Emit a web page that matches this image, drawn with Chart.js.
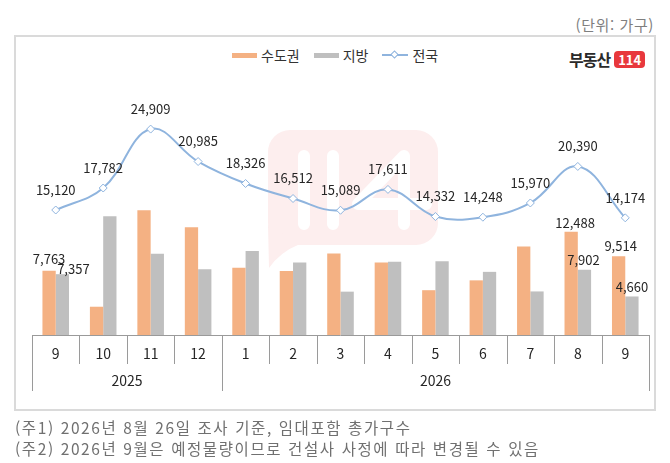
<!DOCTYPE html>
<html lang="ko">
<head>
<meta charset="utf-8">
<title>월별 입주물량</title>
<script src="https://cdn.jsdelivr.net/npm/chart.js@4"></script>
<style>
  html, body { margin: 0; padding: 0; background: #fff; }
  body { width: 670px; height: 463px; position: relative; overflow: hidden;
         font-family: "Noto Sans CJK KR", "Noto Sans", sans-serif; }
  #box { position: absolute; left: 14px; top: 35px; width: 638px; height: 372px;
         border: 2px solid #dadada; }
  #chart { position: absolute; left: 0; top: 0; }
  #unit { position: absolute; right: 16px; top: 14px; font-size: 15px; color: #7f7f7f;
          letter-spacing: 0.6px; line-height: 22px; }
  #legend { position: absolute; left: 232px; top: 45px; display: flex; align-items: center;
            font-size: 14px; color: #333; }
  #legend span.sw { display: inline-block; width: 25px; height: 5px; margin-right: 4px; }
  #legend .item { display: flex; align-items: center; margin-right: 14px; }
  #logo { position: absolute; left: 569px; top: 47px; display: flex; align-items: center; }
  #logo b { font-size: 16px; color: #2a2a2a; letter-spacing: -1px; }
  #logo i { font-style: normal; font-weight: bold; font-size: 13px; color: #fff; background: #e8383d;
            border-radius: 4px; padding: 1px 4px; margin-left: 4px; line-height: 15px; }
  .note { position: absolute; left: 15px; font-size: 15.5px; color: #707070;
          letter-spacing: 1.6px; line-height: 22px; }
</style>
</head>
<body>
<div id="box"></div>
<div id="unit">(단위: 가구)</div>
<div id="legend">
  <div class="item"><span class="sw" style="background:#F4B183"></span>수도권</div>
  <div class="item"><span class="sw" style="background:#BFBFBF"></span>지방</div>
  <div class="item">
    <svg width="26" height="10" style="margin-right:4px"><line x1="0" y1="5" x2="26" y2="5" stroke="#8FB4DE" stroke-width="2"/><rect x="10" y="2" width="5" height="5" transform="rotate(45 12.5 4.5)" fill="#fff" stroke="#8FB4DE" stroke-width="1"/></svg>전국
  </div>
</div>
<div id="logo"><b>부동산</b><i>114</i></div>
<canvas id="chart" width="670" height="463"></canvas>
<div class="note" style="top:416px">(주1) 2026년 8월 26일 조사 기준, 임대포함 총가구수</div>
<div class="note" style="top:437px">(주2) 2026년 9월은 예정물량이므로 건설사 사정에 따라 변경될 수 있음</div>
<script>
// monthly labels and the year groups under them
const months = ['9', '10', '11', '12', '1', '2', '3', '4', '5', '6', '7', '8', '9'];
const years = ['2025', '2026'];
const yearSpans = [4, 9];

// households moving in: capital area, other regions, nationwide total
const capital = [7763, 3420, 15090, 13040, 8150, 7750, 9845, 8765, 5420, 6610, 10700, 12488, 9514];
const regions = [7357, 14362, 9819, 7945, 10176, 8762, 5244, 8846, 8912, 7638, 5270, 7902, 4660];
const nation = [15120, 17782, 24909, 20985, 18326, 16512, 15089, 17611, 14332, 14248, 15970, 20390, 14174];

// bars that carry a value label
const labelledBars = [0, 11, 12];

const fmt = v => v.toLocaleString('en-US');

// faint 114 speech bubble behind the plot
const watermark = {
  id: 'watermark',
  beforeDatasetsDraw(chart) {
    const ctx = chart.ctx;
    ctx.save();
    ctx.fillStyle = '#fdeeee';
    ctx.beginPath();
    ctx.roundRect(268, 130, 170, 115, 22);
    ctx.fill();
    ctx.beginPath();
    ctx.moveTo(268, 225);
    ctx.lineTo(269, 268);
    ctx.quadraticCurveTo(280, 252, 300, 244);
    ctx.closePath();
    ctx.fill();
    ctx.strokeStyle = '#ffffff';
    ctx.lineWidth = 12;
    ctx.lineCap = 'round';
    ctx.lineJoin = 'round';
    ctx.beginPath();
    ctx.moveTo(304, 156); ctx.lineTo(304, 224);
    ctx.moveTo(333, 156); ctx.lineTo(333, 224);
    ctx.moveTo(404, 224); ctx.lineTo(404, 156);
    ctx.lineTo(358, 204); ctx.lineTo(426, 204);
    ctx.stroke();
    ctx.restore();
  }
};

// two level category axis with separators
const groupedAxis = {
  id: 'groupedAxis',
  afterDraw(chart) {
    const ctx = chart.ctx;
    const x = chart.scales.x;
    const area = chart.chartArea;
    const w = (area.right - area.left) / months.length;
    const base = area.bottom;
    ctx.save();
    ctx.strokeStyle = '#9a9a9a';
    ctx.lineWidth = 1;
    ctx.beginPath();
    ctx.moveTo(area.left, base + 0.5);
    ctx.lineTo(area.right, base + 0.5);
    const bounds = [0];
    yearSpans.reduce((s, n) => { bounds.push(s + n); return s + n; }, 0);
    for (let i = 0; i <= months.length; i++) {
      const px = Math.round(area.left + i * w) + 0.5;
      const long = bounds.includes(i);
      ctx.moveTo(px, base);
      ctx.lineTo(px, base + (long ? 56 : 29));
    }
    ctx.stroke();
    ctx.fillStyle = '#262626';
    ctx.font = '14px "Noto Sans CJK KR", sans-serif';
    ctx.textAlign = 'center';
    ctx.textBaseline = 'middle';
    months.forEach((m, i) => ctx.fillText(m, x.getPixelForValue(i), base + 19));
    years.forEach((y, k) => {
      const mid = area.left + (bounds[k] + bounds[k + 1]) / 2 * w;
      ctx.fillText(y, mid, base + 46);
    });
    ctx.restore();
  }
};

// value labels above the line points and a few bars
const valueLabels = {
  id: 'valueLabels',
  afterDatasetsDraw(chart) {
    const ctx = chart.ctx;
    ctx.save();
    ctx.font = '13px "Noto Sans CJK KR", sans-serif';
    ctx.fillStyle = '#262626';
    ctx.textAlign = 'center';
    ctx.textBaseline = 'middle';
    const shift = {
      0: { 0: [0, -12], 11: [4, -9], 12: [2, -10] },
      1: { 0: [11, -5], 11: [-1, -10], 12: [0, -9] }
    };
    [0, 1].forEach(d => {
      const meta = chart.getDatasetMeta(d);
      labelledBars.forEach(i => {
        const el = meta.data[i];
        const [dx, dy] = shift[d][i];
        ctx.fillText(fmt(chart.data.datasets[d].data[i]), el.x + dx, el.y + dy);
      });
    });
    const lm = chart.getDatasetMeta(2);
    lm.data.forEach((el, i) => ctx.fillText(fmt(nation[i]), el.x, el.y - 20));
    ctx.restore();
  }
};

new Chart(document.getElementById('chart'), {
  type: 'bar',
  data: {
    labels: months,
    datasets: [
      { label: '수도권', data: capital, backgroundColor: '#F4B183', order: 1,
        categoryPercentage: 0.56, barPercentage: 1 },
      { label: '지방', data: regions, backgroundColor: '#BFBFBF', order: 1,
        categoryPercentage: 0.56, barPercentage: 1 },
      { label: '전국', data: nation, type: 'line', order: 0,
        borderColor: '#8FB4DE', borderWidth: 2, tension: 0.4,
        pointStyle: 'rectRot', pointRadius: 4, pointBorderWidth: 1,
        pointBackgroundColor: '#ffffff', pointBorderColor: '#8FB4DE' }
    ]
  },
  options: {
    responsive: false,
    animation: false,
    layout: { padding: { left: 32, right: 21, top: 87, bottom: 128 } },
    scales: {
      x: { display: false, offset: true },
      y: { display: false, min: 0, max: 30000 }
    },
    plugins: {
      legend: { display: false },
      tooltip: { enabled: false }
    }
  },
  plugins: [watermark, groupedAxis, valueLabels]
});
</script>
</body>
</html>
